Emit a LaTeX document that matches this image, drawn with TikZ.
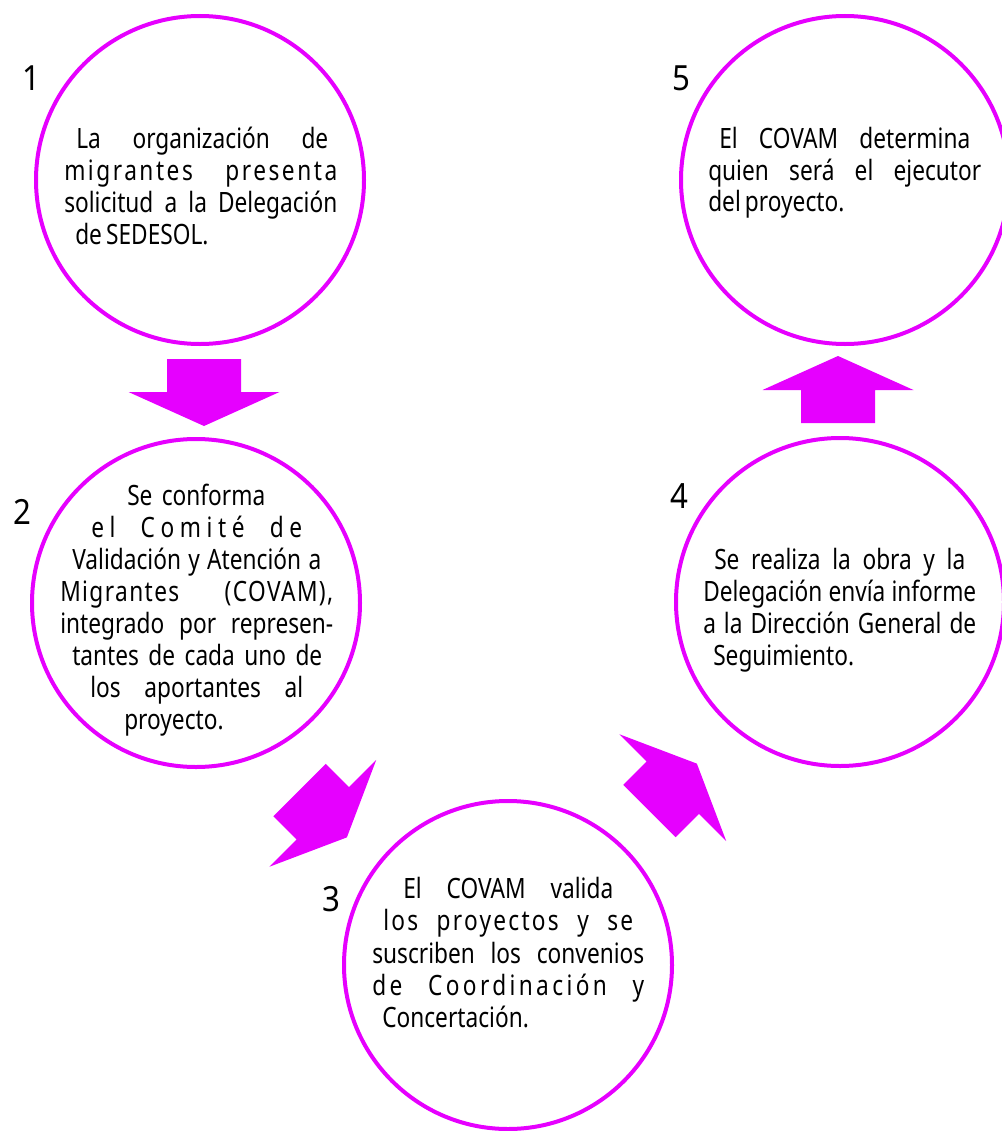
\documentclass[tikz,border=0pt]{standalone}
\usepackage{fontspec}
\setmainfont{Noto Sans}[FakeStretch=0.81,WordSpace=0.7]
\newfontfamily\numfont{Noto Sans}[FakeStretch=0.9]
\usetikzlibrary{calc}
\definecolor{mag}{RGB}{230,0,255}
\newlength\px \setlength\px{0.75pt}
\newcommand\jl[3][0]{\makebox[#2\px][s]{\addfontfeature{LetterSpace=#1}#3}}
\tikzset{
 stage/.style={circle, draw=mag, line width=3pt, minimum size=246pt, inner sep=0pt},
 txt/.style={anchor=base west, inner sep=0pt, font=\fontsize{21pt}{24pt}\selectfont},
 num/.style={inner sep=0pt, font=\numfont\fontsize{26pt}{30pt}\selectfont},
 blockarrow/.pic={\fill[mag] (0,37) -- (33,37) -- (33,75.5) -- (67,0) -- (33,-75.5) -- (33,-37) -- (0,-37) -- cycle;}
}
\begin{document}
\begin{tikzpicture}[x=0.75pt,y=-0.75pt]
\useasboundingbox (0,0) rectangle (1002,1131);
\clip (0,0) rectangle (1002,1131);
% circles
\node[stage] (c1) at (200,180) {};
\node[stage] (c2) at (196,603) {};
\node[stage] (c3) at (508,965) {};
\node[stage] (c4) at (840,602) {};
\node[stage] (c5) at (845,180) {};
% numbers
\node[num] (n1) at (31,78) {1};
\node[num] (n2) at (22,512) {2};
\node[num] (n3) at (331,899) {3};
\node[num] (n4) at (679,496) {4};
\node[num] (n5) at (681,78) {5};
% arrows
\coordinate (a12) at (204,359);
\coordinate (a23) at (299.5,790);
\coordinate (a34) at (649.5,811);
\coordinate (a45) at (838,423);
\pic[rotate=-90] at (a12) {blockarrow};
\pic[rotate=-45] at (a23) {blockarrow};
\pic[rotate=45] at (a34) {blockarrow};
\pic[rotate=90] at (a45) {blockarrow};
% text 1
\node[txt] (t1a) at (76,148) {\jl{252}{La organización de}};
\node[txt] (t1b) at (64,180) {\jl[9]{273}{migrantes presenta}};
\node[txt] (t1c) at (64,212) {\jl{273}{solicitud a la Delegación}};
\node[txt] (t1d) at (75,244) {de SEDESOL.};
% text 2
\node[txt] (t2a) at (127,505) {\jl{138}{Se conforma}};
\node[txt] (t2b) at (91,537) {\jl[20]{211}{el Comité de}};
\node[txt] (t2c) at (72,569) {\jl{249}{Validación y Atención a}};
\node[txt] (t2d) at (60,601) {\jl[5]{273}{Migrantes (COVAM),}};
\node[txt] (t2e) at (60,633) {\jl{273}{integrado por represen-}};
\node[txt] (t2f) at (72,665) {\jl{250}{tantes de cada uno de}};
\node[txt] (t2g) at (90,697) {\jl{213}{los aportantes al}};
\node[txt] (t2h) at (124,729) {proyecto.};
% text 3
\node[txt] (t3a) at (403,898) {\jl{210}{El COVAM valida}};
\node[txt] (t3b) at (383,930) {\jl[8]{250}{los proyectos y se}};
\node[txt] (t3c) at (372,963) {\jl{272}{suscriben los convenios}};
\node[txt] (t3d) at (372,995) {\jl[12]{272}{de Coordinación y}};
\node[txt] (t3e) at (382,1027) {Concertación.};
% text 4
\node[txt] (t4a) at (714,569) {\jl{251}{Se realiza la obra y la}};
\node[txt] (t4b) at (703,601) {\jl{273}{Delegación envía informe}};
\node[txt] (t4c) at (703,633) {\jl{273}{a la Dirección General de}};
\node[txt] (t4d) at (713,665) {Seguimiento.};
% text 5
\node[txt] (t5a) at (719,148) {\jl{251}{El COVAM determina}};
\node[txt] (t5b) at (708,180) {\jl{273}{quien será el ejecutor}};
\node[txt] (t5c) at (708,211) {del proyecto.};
\end{tikzpicture}
\end{document}
